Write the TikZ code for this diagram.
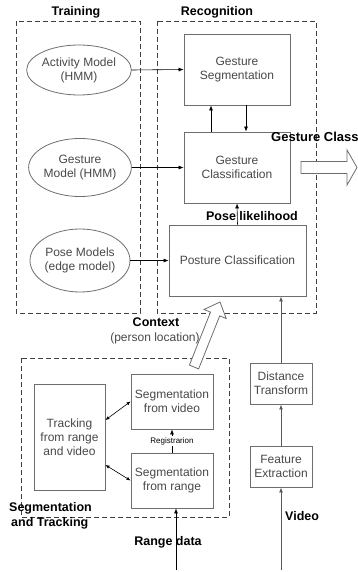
\documentclass[tikz,border=0pt]{standalone}
\usepackage{fontspec}
\setmainfont{Liberation Sans}
\usetikzlibrary{arrows.meta,shapes.geometric}
\definecolor{boxline}{HTML}{6E6E6E}
\definecolor{boxtext}{HTML}{484848}
\definecolor{dashline}{HTML}{404040}
\begin{document}
\begin{tikzpicture}[x=1pt,y=-1pt,
  grp/.style={draw=dashline,line width=0.8pt,dash pattern=on 5pt off 3pt},
  ell/.style={draw=boxline,line width=0.8pt,ellipse,inner sep=0pt,text=boxtext,align=center,font=\fontsize{12}{14}\selectfont},
  blk/.style={draw=boxline,line width=0.9pt,rectangle,inner sep=0pt,text=boxtext,align=center,font=\fontsize{12}{14}\selectfont},
  lbl/.style={font=\bfseries\fontsize{12.5}{14.5}\selectfont,inner sep=0pt,text=black},
  arr/.style={-{Latex[length=5pt,width=4pt]},line width=0.6pt,black},
  garr/.style={-{Latex[length=5pt,width=4pt]},line width=0.9pt,boxline!80!black},
  darr/.style={{Latex[length=4pt,width=3.5pt]}-{Latex[length=4pt,width=3.5pt]},line width=0.6pt,black},
  fat/.style={draw=boxline,line width=0.8pt,fill=white}
]
\useasboundingbox (0,0) rectangle (358,572);

% group frames
\draw[grp] (16,21) rectangle (140,313);
\draw[grp] (157,21) rectangle (316,313);
\draw[grp] (21,358) rectangle (229,517);
\node[lbl] (ttrain) at (76,12) {Training};
\node[lbl] (trec) at (217,12) {Recognition};

% training ellipses
\node[ell,minimum width=92pt,minimum height=50pt] (act) at (79,70) {Activity Model\\(HMM)};
\node[ell,minimum width=94pt,minimum height=58pt] (gm) at (80,167.5) {Gesture\\Model (HMM)};
\node[ell,minimum width=94pt,minimum height=63pt] (pm) at (80,260.5) {Pose Models\\(edge model)};

% recognition boxes
\node[blk,minimum width=106pt,minimum height=71pt] (gseg) at (237,69.5) {Gesture\\Segmentation};
\node[blk,minimum width=106pt,minimum height=71pt] (gcl) at (237,167.5) {Gesture\\Classification};
\node[blk,minimum width=137pt,minimum height=71pt] (pc) at (237.5,260.5) {Posture Classification};

% video path
\node[blk,minimum width=62pt,minimum height=41pt] (dt) at (281,383.5) {Distance\\Transform};
\node[blk,minimum width=62pt,minimum height=41pt] (fe) at (281,466.5) {Feature\\Extraction};

% segmentation and tracking
\node[blk,minimum width=71pt,minimum height=106pt] (tr) at (69.5,437) {Tracking\\from range\\and video};
\node[blk,minimum width=82pt,minimum height=55pt] (sv) at (172,401.5) {Segmentation\\from video};
\node[blk,minimum width=82pt,minimum height=55pt] (sr) at (172,480.5) {Segmentation\\from range};

% connectors
\draw[arr] (act.east) -- (gseg.west);
\draw[arr] (gm.east) -- (gcl.west);
\draw[arr] (pm.east) -- (pc.west);
\draw[arr] ([xshift=-26pt]gcl.north) -- ([xshift=-26pt]gseg.south);
\draw[arr] ([xshift=9pt]gseg.south) -- ([xshift=9pt]gcl.north);
\draw[arr] (pc.north) -- (gcl.south);
\node[lbl] (plik) at (252,216) {Pose likelihood};

\draw[garr] (dt.north) -- (dt.north |- pc.south);
\draw[garr] (fe.north) -- (dt.south);
\coordinate (vid) at (281,570);
\draw[garr] (vid) -- (fe.south);
\node[lbl,anchor=west] (tvid) at (285,516) {Video};

\coordinate (rng) at (176,570);
\draw[arr] (rng) -- (rng |- sr.south);
\node[lbl] (trng) at (168,542) {Range data};

\draw[arr] (sr.north) -- node[fill=white,inner sep=1pt,text=black,font=\fontsize{8}{9}\selectfont] (treg) {Registrarion} (sv.south);
\draw[darr] ([yshift=17pt]tr.east) -- (sv.west);
\draw[darr] ([yshift=-28pt]tr.east) -- (sr.west);

\node[lbl,anchor=west,align=left] (tseg) at (9,516) {Segmentation\\\hspace*{2pt}and Tracking};

% fat arrows
\draw[fat] (301,161.5) -- (347,161.5) -- (347,150) -- (357,167.5) -- (347,185) -- (347,173.5) -- (301,173.5) -- cycle;
\node[lbl,anchor=west,font=\bfseries\fontsize{13}{15}\selectfont] (tgc) at (271,137) {Gesture Class};

\draw[fat] (198.6,368.9) -- (219.7,315.9) -- (226.2,318.5) -- (220,302) -- (204.0,309.5) -- (210.5,312.1) -- (189.4,365.1) -- cycle;
\node[lbl] (tctx) at (156,322) {Context};
\node[inner sep=0pt,text=boxtext,font=\fontsize{12}{14}\selectfont] (tloc) at (155,338) {(person location)};
\end{tikzpicture}
\end{document}
